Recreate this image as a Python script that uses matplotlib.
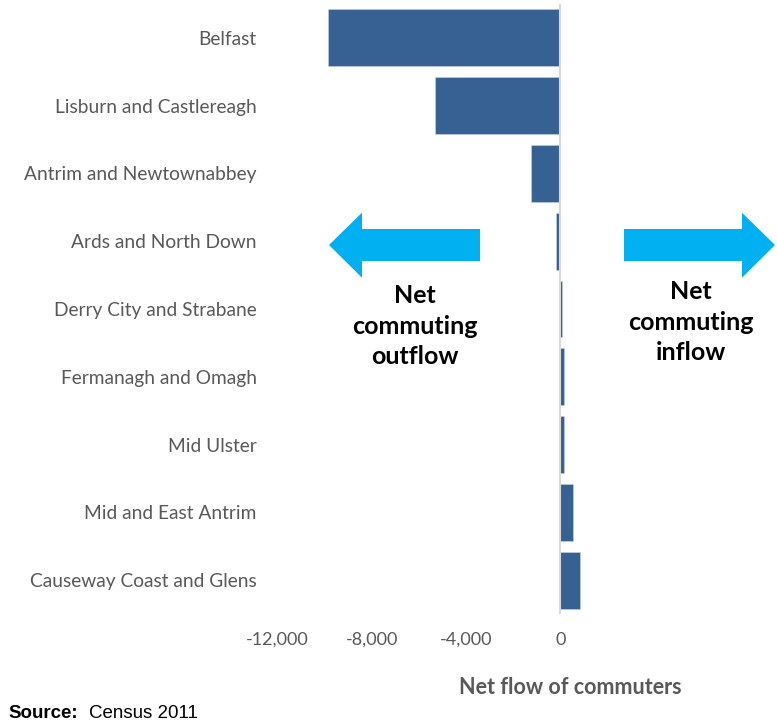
import matplotlib
matplotlib.use("Agg")
import matplotlib.pyplot as plt
from matplotlib.patches import Polygon

categories = ["Belfast", "Lisburn and Castlereagh", "Antrim and Newtownabbey",
              "Ards and North Down", "Derry City and Strabane", "Fermanagh and Omagh",
              "Mid Ulster", "Mid and East Antrim", "Causeway Coast and Glens"]
net_flow = [-9860, -5320, -1230, -170, 60, 155, 150, 535, 830]
tick_values = [-12000, -8000, -4000, 0]
tick_labels = ["-12,000", "-8,000", "-4,000", "0"]

W, H = 777, 725
fig = plt.figure(figsize=(W / 100, H / 100), dpi=100)
fig.patch.set_facecolor("white")

def fx(px):
    return px / W

def fy(py):
    return 1 - py / H

ax = fig.add_axes([fx(277.7), fy(614), fx(749) - fx(277.7), fy(4) - fy(614)])
y = list(range(len(categories)))
ax.barh(y, net_flow, height=0.84, color="#376093", edgecolor="#C9D3E3", linewidth=0.4, zorder=2)
ax.set_ylim(len(categories) - 0.5, -0.5)
ax.set_xlim(-12000, 8000)
ax.axvline(0, color="#D9D9D9", linewidth=1.5, zorder=3)
for s in ax.spines.values():
    s.set_visible(False)
ax.set_xticks(tick_values)
ax.set_xticklabels(tick_labels, fontsize=13, color="#595959", family="Lato")
ax.set_yticks(y)
ax.set_yticklabels(categories, fontsize=13.8, color="#595959", family="Lato")
ax.tick_params(axis="x", length=0, pad=13)
ax.tick_params(axis="y", length=0, pad=15)

fig.text(fx(570), fy(688), "Net flow of commuters", ha="center", va="center",
         fontsize=15.5, fontweight="bold", color="#595959", family="Lato")

# arrows
arrow_color = "#00B0F0"
left_arrow = [(329, 245), (362, 212.7), (362, 229), (480, 229), (480, 261),
              (362, 261), (362, 277.7)]
right_arrow = [(775, 245), (742, 212.7), (742, 229), (624, 229), (624, 261),
               (742, 261), (742, 277.7)]
for pts in (left_arrow, right_arrow):
    fig.patches.append(Polygon([(fx(a), fy(b)) for a, b in pts], closed=True,
                               transform=fig.transFigure, facecolor=arrow_color,
                               edgecolor="none"))

fig.text(fx(415), fy(326), "Net\ncommuting\noutflow", ha="center", va="center",
         fontsize=18, fontweight="bold", color="black", family="Lato", linespacing=1.38)
fig.text(fx(691), fy(322), "Net\ncommuting\ninflow", ha="center", va="center",
         fontsize=18, fontweight="bold", color="black", family="Lato", linespacing=1.38)

fig.text(fx(8), fy(714), "Source:", ha="left", va="center", fontsize=13.5,
         fontweight="bold", color="black", family="Liberation Sans")
fig.text(fx(89), fy(714), "Census 2011", ha="left", va="center", fontsize=13.5,
         color="black", family="Liberation Sans")

fig.savefig("out.png", dpi=100)
